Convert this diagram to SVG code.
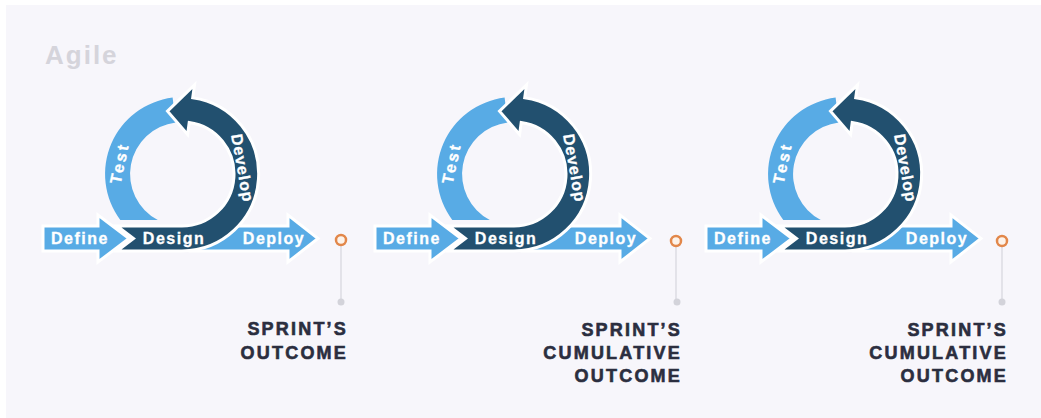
<svg xmlns="http://www.w3.org/2000/svg" xmlns:xlink="http://www.w3.org/1999/xlink" width="1041" height="418" viewBox="0 0 1041 418">
<style>
.light{fill:#58abe5}
.dark{fill:#22506f;stroke:#fff;stroke-width:3;stroke-linejoin:miter}
.arrow{fill:#58abe5;stroke:#fff;stroke-width:3;stroke-linejoin:miter}
.lbl{font-family:"Liberation Sans",Arial,sans-serif;font-weight:700;font-size:16px;fill:#ffffff;stroke:#ffffff;stroke-width:0.3;letter-spacing:1.5px;text-anchor:middle}
.head{font-family:"Liberation Sans",Arial,sans-serif;font-weight:700;font-size:18px;fill:#2b2e3f;stroke:#2b2e3f;stroke-width:0.6;letter-spacing:2.2px;text-anchor:end}
.ring{fill:#fdf3ea;stroke:#e2874a;stroke-width:2.5}
.dot{fill:#d3d3da}
.conn{stroke:#cfcfd7;stroke-width:1;fill:none}
</style>
<defs>
<path id="lightArc" d="M120.3,220 A77,77 0 0 1 172.6,97.6 L175.7,122.4 A52,52 0 0 0 157.8,220 Z"/>
<path id="darkArc" d="M117,226 L182,226 A52,52 0 0 0 189.2,122.5 L187.6,134.4 L167.5,111.2 L194.5,84.9 L192.7,97.8 A77,77 0 0 1 182,251 L117,251 L133.5,238.5 Z"/>
<path id="defineArrow" d="M43,226 L98,226 L98,215 L129,238.5 L98,262 L98,251 L43,251 Z"/>
<path id="deployArrow" d="M190,226 L288,226 L288,215 L318,238.5 L288,262 L288,251 L190,251 Z"/>
</defs>
<rect x="0" y="0" width="1041" height="418" fill="#ffffff"/>
<rect x="6" y="5" width="1035" height="413" fill="#f7f6fb"/>
<text x="45" y="64" font-family="'Liberation Sans',Arial,sans-serif" font-weight="700" font-size="26" fill="#d5d4db" letter-spacing="2">Agile</text>

<g id="cycle1">
  <g id="test1"><use xlink:href="#lightArc" class="light"/><text class="lbl" style="letter-spacing:2.5px" transform="translate(119,163) rotate(-78)" y="6">Test</text></g>
  <g id="deploy1"><use xlink:href="#deployArrow" class="arrow"/><text class="lbl" x="274" y="244">Deploy</text></g>
  <g id="develop1"><use xlink:href="#darkArc" class="dark"/><text class="lbl" style="letter-spacing:1px" transform="translate(243,168) rotate(80)" y="6">Develop</text><text class="lbl" x="174" y="244">Design</text></g>
  <g id="define1"><use xlink:href="#defineArrow" class="arrow"/><text class="lbl" x="80" y="244">Define</text></g>
</g>
<g id="cycle2" transform="translate(332,0)">
  <g id="test2"><use xlink:href="#lightArc" class="light"/><text class="lbl" style="letter-spacing:2.5px" transform="translate(119,163) rotate(-78)" y="6">Test</text></g>
  <g id="deploy2"><use xlink:href="#deployArrow" class="arrow"/><text class="lbl" x="274" y="244">Deploy</text></g>
  <g id="develop2"><use xlink:href="#darkArc" class="dark"/><text class="lbl" style="letter-spacing:1px" transform="translate(243,168) rotate(80)" y="6">Develop</text><text class="lbl" x="174" y="244">Design</text></g>
  <g id="define2"><use xlink:href="#defineArrow" class="arrow"/><text class="lbl" x="80" y="244">Define</text></g>
</g>
<g id="cycle3" transform="translate(663,0)">
  <g id="test3"><use xlink:href="#lightArc" class="light"/><text class="lbl" style="letter-spacing:2.5px" transform="translate(119,163) rotate(-78)" y="6">Test</text></g>
  <g id="deploy3"><use xlink:href="#deployArrow" class="arrow"/><text class="lbl" x="274" y="244">Deploy</text></g>
  <g id="develop3"><use xlink:href="#darkArc" class="dark"/><text class="lbl" style="letter-spacing:1px" transform="translate(243,168) rotate(80)" y="6">Develop</text><text class="lbl" x="174" y="244">Design</text></g>
  <g id="define3"><use xlink:href="#defineArrow" class="arrow"/><text class="lbl" x="80" y="244">Define</text></g>
</g>

<g id="connectors">
  <line class="conn" x1="341" y1="246" x2="341" y2="299"/>
  <line class="conn" x1="676" y1="247" x2="676" y2="299"/>
  <line class="conn" x1="1002" y1="247" x2="1002" y2="299"/>
</g>

<g id="outcome1">
  <circle class="ring" cx="341" cy="240" r="5"/>
  <circle class="dot" cx="341" cy="302" r="3.5"/>
  <text class="head" x="348" y="335">SPRINT’S</text>
  <text class="head" x="348" y="359">OUTCOME</text>
</g>
<g id="outcome2">
  <circle class="ring" cx="676" cy="241" r="5"/>
  <circle class="dot" cx="677" cy="302" r="3.5"/>
  <text class="head" x="682" y="336">SPRINT’S</text>
  <text class="head" x="682" y="359">CUMULATIVE</text>
  <text class="head" x="682" y="382">OUTCOME</text>
</g>
<g id="outcome3">
  <circle class="ring" cx="1002" cy="241" r="5"/>
  <circle class="dot" cx="1002" cy="302" r="3.5"/>
  <text class="head" x="1008" y="336">SPRINT’S</text>
  <text class="head" x="1008" y="359">CUMULATIVE</text>
  <text class="head" x="1008" y="382">OUTCOME</text>
</g>
</svg>
